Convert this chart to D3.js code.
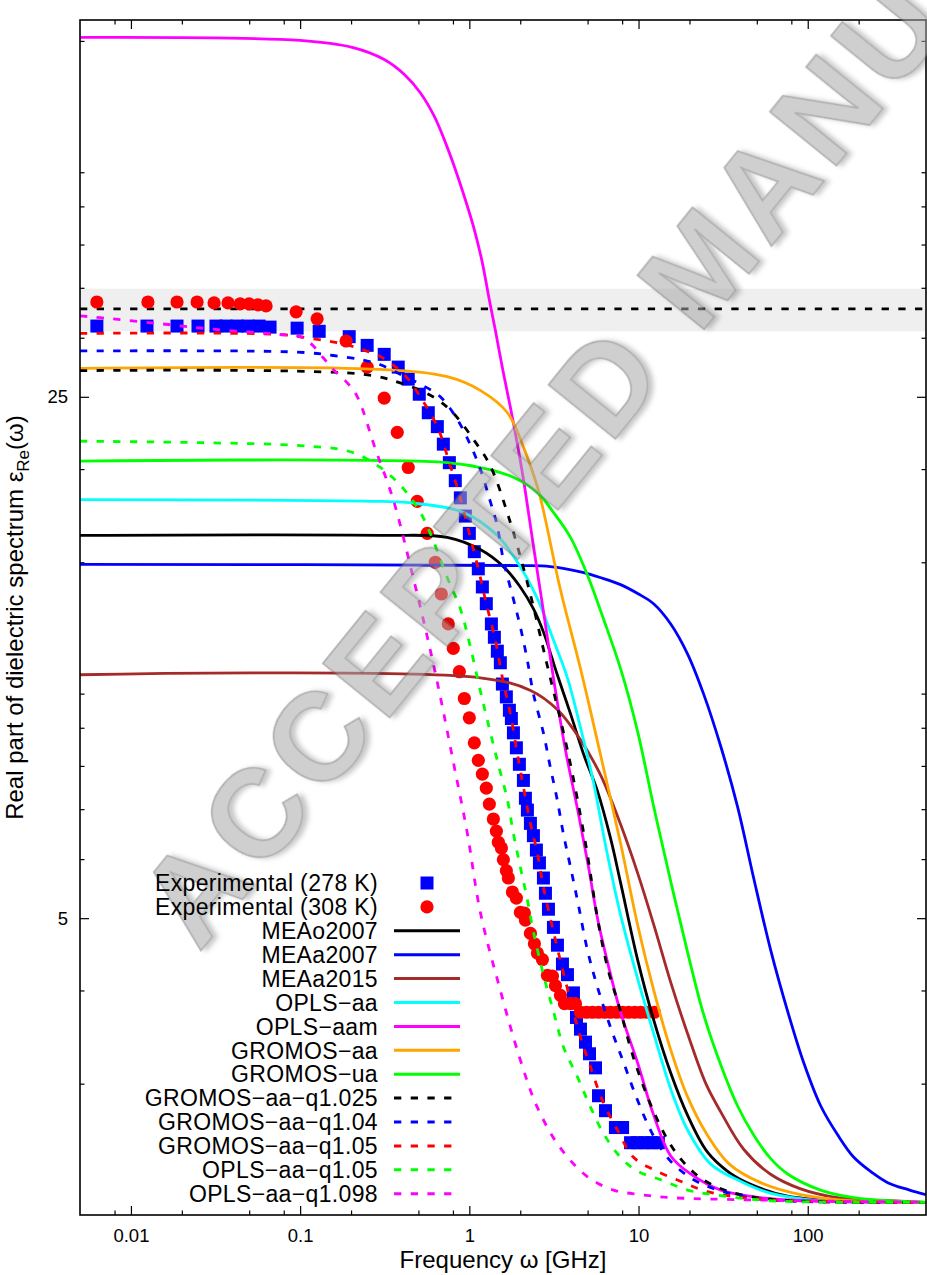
<!DOCTYPE html>
<html>
<head>
<meta charset="utf-8">
<title>Real part of dielectric spectrum</title>
<script src="https://cdn.jsdelivr.net/npm/d3@7/dist/d3.min.js"></script>
<style>
  html, body { margin: 0; padding: 0; background: #fff; }
  svg { display: block; }
  text { font-family: "Liberation Sans", Arial, Helvetica, sans-serif; }
</style>
</head>
<body>
<svg id="chart" width="927" height="1275" viewBox="0 0 927 1275"></svg>
<script>
// ---------------- data: [frequency in GHz, eps_Re] ----------------
const exp278 = [[0.00629,31.1],[0.01244,31.1],[0.01872,31.1],[0.02491,31.1],[0.0318,31.1],[0.0365,31.1],[0.0424,31.1],[0.0492,31.1],[0.0572,31.1],[0.0664,31.0],[0.096,30.9],[0.1296,30.6],[0.195,30.1],[0.249,29.3],[0.314,28.5],[0.380,27.4],[0.4355,26.4],[0.506,25.2],[0.572,23.8],[0.647,22.8],[0.702,21.6],[0.762,20.4],[0.826,19.3],[0.885,18.3],[0.947,17.3],[1.0,16.4],[1.07,15.5],[1.13,14.7],[1.194,13.9],[1.26,13.2],[1.35,12.4],[1.406,11.9],[1.464,11.4],[1.525,11.0],[1.568,10.3],[1.655,9.9],[1.725,9.5],[1.772,9.26],[1.822,8.86],[1.897,8.46],[1.976,8.04],[2.087,7.65],[2.145,7.24],[2.204,6.98],[2.296,6.70],[2.392,6.45],[2.491,6.17],[2.596,5.93],[2.741,5.66],[2.817,5.40],[2.935,5.14],[3.141,4.86],[3.317,4.60],[3.551,4.34],[3.801,4.20],[4.124,3.97],[4.297,3.68],[4.538,3.55],[4.858,3.41],[5.13,3.29],[5.568,3.15],[5.8,2.89],[6.38,2.76],[7.3,2.62],[8.05,2.62],[8.97,2.50],[9.87,2.50],[10.84,2.50],[11.94,2.50],[13.1,2.50]];

const exp308 = [[0.00629,33.5],[0.0126,33.5],[0.01872,33.5],[0.0246,33.5],[0.031,33.4],[0.0375,33.4],[0.0442,33.3],[0.0499,33.3],[0.0564,33.2],[0.0629,33.1],[0.0947,32.5],[0.126,31.8],[0.187,29.7],[0.249,27.4],[0.314,24.9],[0.375,22.4],[0.4355,20.1],[0.492,18.1],[0.564,16.4],[0.629,15.0],[0.683,13.6],[0.751,12.4],[0.804,11.5],[0.873,10.7],[0.934,9.85],[1.0,9.28],[1.07,8.59],[1.13,8.14],[1.194,7.80],[1.26,7.47],[1.313,7.11],[1.387,6.79],[1.445,6.54],[1.484,6.32],[1.547,6.21],[1.589,5.99],[1.655,5.79],[1.701,5.66],[1.797,5.42],[1.897,5.32],[2.003,5.09],[2.115,5.08],[2.145,4.97],[2.296,4.77],[2.424,4.62],[2.525,4.49],[2.704,4.40],[2.894,4.19],[3.098,4.18],[3.228,4.06],[3.455,3.94],[3.649,3.84],[3.959,3.84],[4.239,3.84],[4.54,3.74],[4.93,3.74],[5.34,3.74],[5.8,3.74],[6.3,3.74],[6.83,3.74],[7.42,3.74],[8.05,3.74],[8.74,3.74],[9.5,3.74],[10.3,3.74],[11.2,3.74],[12.4,3.74]];

const meao2007 = [[0.005,16.3],[0.3,16.3],[0.74,16.2],[1.16,15.6],[1.59,14.8],[2.0,13.9],[2.39,13.0],[2.74,12.1],[3.31,10.6],[3.96,9.4],[4.73,8.3],[5.72,7.4],[6.83,6.4],[7.83,5.58],[9.87,4.40],[12.3,3.65],[15.5,3.10],[19.5,2.72],[25.5,2.43],[34.4,2.28],[47.9,2.19],[76,2.12],[150,2.09],[500,2.08]];
const meaa2007 = [[0.005,14.9],[2.0,14.85],[3.01,14.8],[4.54,14.56],[6.0,14.3],[7.83,14.0],[10.0,13.6],[12.27,13.2],[15.5,12.4],[19.5,11.3],[24.2,10.0],[30.6,8.5],[38.5,7.05],[47.9,5.66],[60.4,4.53],[76.1,3.75],[94.7,3.20],[119.4,2.80],[150.5,2.56],[187.2,2.39],[240,2.28],[297,2.21],[400,2.16],[500,2.13]];
const meaa2015 = [[0.005,10.6],[1.16,10.5],[2.3,10.1],[3.31,9.52],[4.54,8.67],[5.96,7.78],[7.83,6.68],[9.87,5.75],[12.3,4.9],[15.5,4.1],[19.5,3.5],[25,3.0],[30.6,2.75],[41.8,2.45],[60,2.27],[90,2.17],[150,2.11],[300,2.09],[500,2.08]];
const oplsAa = [[0.005,18.2],[0.3,18.1],[0.47,18.0],[0.92,17.5],[1.46,16.3],[2.0,14.8],[2.53,13.4],[3.14,11.8],[3.80,10.5],[4.54,9.0],[5.42,7.6],[6.44,6.2],[7.83,5.05],[9.87,4.15],[12.3,3.50],[15.5,2.95],[19.5,2.60],[26.7,2.34],[40,2.22],[60,2.14],[120,2.09],[500,2.08]];
const oplsAam = [[0.005,75.8],[0.1,75.1],[0.203,73.5],[0.314,70.8],[0.413,67.6],[0.513,63.9],[0.621,59.4],[0.711,55.3],[0.815,50.9],[0.934,46.4],[1.07,41.9],[1.194,37.8],[1.313,33.7],[1.425,30.7],[1.59,26.9],[1.748,24.2],[1.923,21.6],[2.087,19.4],[2.235,17.5],[2.39,15.8],[2.74,12.9],[3.14,10.5],[3.70,8.4],[4.36,7.0],[5.06,5.86],[5.72,5.0],[6.55,4.37],[7.83,3.74],[9.87,3.2],[12.3,2.72],[15.5,2.40],[20.3,2.27],[30.6,2.16],[52.7,2.11],[100,2.09],[500,2.08]];
const gromosAa = [[0.005,27.3],[0.298,27.2],[0.74,26.6],[1.16,25.5],[1.68,23.8],[2.09,21.4],[2.53,18.9],[2.74,17.6],[3.45,13.8],[4.54,10.8],[5.96,8.28],[7.83,6.30],[9.87,4.9],[12.3,4.0],[15.5,3.33],[19.5,2.88],[25.5,2.56],[34.4,2.34],[52.7,2.21],[90.8,2.13],[178,2.09],[500,2.08]];
const gromosUa = [[0.005,20.5],[0.74,20.4],[1.28,20.0],[1.82,19.5],[2.53,18.6],[3.14,17.5],[3.96,16.2],[5.0,14.4],[6.2,12.6],[7.83,10.8],[9.87,8.9],[12.3,7.05],[15.5,5.6],[19.5,4.5],[24.2,3.72],[30.6,3.18],[38.5,2.80],[47.9,2.56],[60.4,2.38],[76.1,2.27],[119,2.16],[187,2.11],[297,2.09],[500,2.08]];
const gromosAaQ1025 = [[0.005,27.1],[0.236,26.8],[0.39,26.1],[0.61,25.0],[0.80,23.8],[1.06,21.9],[1.33,20.2],[1.70,17.3],[2.2,14.1],[2.89,10.9],[3.80,8.4],[4.86,6.3],[5.72,5.0],[6.55,4.3],[7.83,3.75],[9.34,3.25],[12.3,2.75],[16.1,2.45],[21.2,2.28],[27.8,2.19],[40,2.13],[80,2.09],[500,2.08]];
const gromosAaQ104 = [[0.005,28.8],[0.096,28.7],[0.157,28.4],[0.236,28.0],[0.298,27.6],[0.39,26.8],[0.513,26.0],[0.674,25.0],[0.85,23.3],[1.01,21.6],[1.16,20.0],[1.33,18.1],[1.46,16.8],[1.59,15.1],[1.82,13.4],[2.0,12.3],[2.2,11.1],[2.39,10.0],[2.74,8.86],[3.01,7.97],[3.31,7.20],[3.59,6.50],[3.96,5.86],[4.41,5.21],[4.99,4.53],[5.72,4.04],[6.83,3.57],[8.17,3.2],[9.87,2.85],[12.3,2.55],[15.5,2.36],[21.2,2.23],[27.8,2.17],[52.7,2.10],[500,2.08]];
const gromosAaQ105 = [[0.005,30.4],[0.076,30.3],[0.12,29.9],[0.172,29.5],[0.236,28.9],[0.298,28.3],[0.375,27.3],[0.4355,26.4],[0.513,25.0],[0.647,22.8],[0.762,20.4],[0.884,18.3],[1.0,16.4],[1.13,14.7],[1.26,13.2],[1.425,11.8],[1.568,10.5],[1.748,9.4],[1.923,8.3],[2.087,7.5],[2.296,6.7],[2.525,6.11],[2.741,5.5],[3.141,4.8],[3.6,4.22],[4.54,3.46],[5.2,3.16],[6.11,2.85],[7.5,2.60],[9.34,2.39],[12.3,2.30],[17.7,2.22],[25.5,2.15],[52,2.10],[500,2.08]];
const oplsAaQ105 = [[0.005,21.8],[0.0256,21.7],[0.1,21.5],[0.198,21.1],[0.298,20.1],[0.41,18.8],[0.513,17.5],[0.588,16.4],[0.741,14.3],[0.884,13.0],[1.01,11.6],[1.16,10.1],[1.28,9.2],[1.46,8.15],[1.68,7.2],[1.82,6.5],[2.0,5.86],[2.2,5.3],[2.39,4.8],[2.74,4.2],[3.14,3.75],[3.6,3.36],[4.36,3.06],[5.2,2.79],[6.22,2.57],[7.83,2.39],[9.87,2.29],[13.5,2.23],[19.5,2.16],[27.8,2.13],[60,2.09],[500,2.08]];
const oplsAaQ1098 = [[0.005,32.1],[0.0078,31.8],[0.0155,31.3],[0.0306,30.8],[0.076,30.3],[0.1,30.1],[0.115,29.5],[0.137,28.2],[0.157,27.2],[0.19,26.1],[0.218,25.0],[0.278,21.3],[0.355,18.2],[0.466,14.3],[0.565,11.9],[0.674,9.9],[0.804,8.1],[0.973,6.5],[1.16,5.1],[1.525,4.0],[2.0,3.23],[2.52,2.79],[3.45,2.46],[5.0,2.25],[7.12,2.16],[10.3,2.13],[15.5,2.11],[500,2.08]];

// reference value with its uncertainty band
const refValue = 32.8;
const refBand = [30.6, 34.9];

// legend labels in plotting order
const pointLabels = ["Experimental (278 K)", "Experimental (308 K)"];
const lineLabels = ["MEAo2007","MEAa2007","MEAa2015","OPLS\u2212aa","OPLS\u2212aam","GROMOS\u2212aa","GROMOS\u2212ua","GROMOS\u2212aa\u2212q1.025","GROMOS\u2212aa\u2212q1.04","GROMOS\u2212aa\u2212q1.05","OPLS\u2212aa\u2212q1.05","OPLS\u2212aa\u2212q1.098"];
const lineData = [meao2007, meaa2007, meaa2015, oplsAa, oplsAam, gromosAa, gromosUa, gromosAaQ1025, gromosAaQ104, gromosAaQ105, oplsAaQ105, oplsAaQ1098];

// axes
const xDomain = [0.005, 500];
const yDomain = [2, 80];
const xMajorTicks = [0.01, 0.1, 1, 10, 100];
const xMinorTicks = [0.008, 0.02, 0.05, 0.08, 0.2, 0.5, 0.8, 2, 5, 8, 20, 50, 80, 200];
const yMajorTicks = [5, 25];
const yMinorTicks = [3, 4, 6, 7, 8, 9, 10, 15, 20, 30, 35, 40, 45, 50, 75];

// stamp across the page (the part that lands on the page)
const stampText = "ACCEPTED MANU";

// ---------------- styles ----------------
const lineColors = ["#000000","#0000ff","#a52a2a","#00ffff","#ff00ff","#ffa500","#00ff00","#000000","#0000ff","#ff0000","#00ff00","#ff00ff"];
const lineDashed = [false,false,false,false,false,false,false,true,true,true,true,true];
const DASH = "7.3,9.4";

// ---------------- drawing ----------------
const svg = d3.select("#chart");
const plot = { left: 80, right: 926, top: 20, bottom: 1215 };
const x = d3.scaleLog().domain(xDomain).range([plot.left, plot.right]);
const y = d3.scaleLog().domain(yDomain).range([plot.bottom, plot.top]);

const defs = svg.append("defs");
defs.append("clipPath").attr("id", "plotClip")
  .append("rect")
  .attr("x", plot.left).attr("y", plot.top)
  .attr("width", plot.right - plot.left).attr("height", plot.bottom - plot.top);
const shade = defs.append("filter").attr("id", "wmShade")
  .attr("x", "-20%").attr("y", "-20%").attr("width", "140%").attr("height", "140%");
shade.append("feDropShadow").attr("dx", 3).attr("dy", 4).attr("stdDeviation", 2.5)
  .attr("flood-color", "#303030").attr("flood-opacity", 0.5);

// shaded band
svg.append("rect")
  .attr("x", plot.left).attr("width", plot.right - plot.left)
  .attr("y", y(refBand[1])).attr("height", y(refBand[0]) - y(refBand[1]))
  .attr("fill", "#efefef");

// axes with mirrored ticks
function styleAxis(g) {
  g.select(".domain").remove();
  g.selectAll(".tick line").attr("stroke", "#000").attr("stroke-width", 1.2);
  g.selectAll(".tick text").attr("fill", "#000").attr("font-size", 18.5)
    .attr("font-family", '"Liberation Sans", Arial, sans-serif');
}
const fmt = d3.format("~g");
function addAxis(axis, tx, ty, values, size, labels, pad) {
  svg.append("g").attr("transform", `translate(${tx},${ty})`)
    .call(axis.tickValues(values).tickSizeInner(size).tickSizeOuter(0)
      .tickPadding(pad || 3).tickFormat(labels ? fmt : ""))
    .call(styleAxis);
}
addAxis(d3.axisBottom(x), 0, plot.bottom, xMajorTicks, -9, true, 14);
addAxis(d3.axisBottom(x), 0, plot.bottom, xMinorTicks, -4.5, false);
addAxis(d3.axisTop(x), 0, plot.top, xMajorTicks, -9, false);
addAxis(d3.axisTop(x), 0, plot.top, xMinorTicks, -4.5, false);
addAxis(d3.axisLeft(y), plot.left, 0, yMajorTicks, -9, true, 12);
addAxis(d3.axisLeft(y), plot.left, 0, yMinorTicks, -4.5, false);
addAxis(d3.axisRight(y), plot.right, 0, yMajorTicks, -9, false);
addAxis(d3.axisRight(y), plot.right, 0, yMinorTicks, -4.5, false);

const body = svg.append("g").attr("clip-path", "url(#plotClip)");

// reference line
body.append("line")
  .attr("x1", x(xDomain[0])).attr("x2", x(xDomain[1]))
  .attr("y1", y(refValue)).attr("y2", y(refValue))
  .attr("stroke", "#000").attr("stroke-width", 2.8).attr("stroke-dasharray", DASH);

// experimental points
body.append("g").selectAll("rect").data(exp278).join("rect")
  .attr("x", d => x(d[0]) - 6.5).attr("y", d => y(d[1]) - 6.5)
  .attr("width", 13).attr("height", 13).attr("fill", "#0000ff");
body.append("g").selectAll("circle").data(exp308).join("circle")
  .attr("cx", d => x(d[0])).attr("cy", d => y(d[1])).attr("r", 6.6)
  .attr("fill", "#ff0000");

// model spectra
const line = d3.line().x(d => x(d[0])).y(d => y(d[1])).curve(d3.curveCatmullRom.alpha(0.5));
body.append("g").selectAll("path").data(lineData).join("path")
  .attr("d", line)
  .attr("fill", "none")
  .attr("stroke", (d, i) => lineColors[i])
  .attr("stroke-width", 2.8)
  .attr("stroke-dasharray", (d, i) => lineDashed[i] ? DASH : null);

// frame
svg.append("rect")
  .attr("x", plot.left).attr("y", plot.top)
  .attr("width", plot.right - plot.left).attr("height", plot.bottom - plot.top)
  .attr("fill", "none").attr("stroke", "#000").attr("stroke-width", 1.6);

// diagonal stamp, laid out glyph by glyph along a rotated baseline
const stamp = { size: 125, spacing: 8, angle: -51, x0: 199, y0: 953 };
const wm = svg.append("g")
  .attr("transform", `translate(${stamp.x0},${stamp.y0}) rotate(${stamp.angle})`)
  .attr("opacity", 0.55)
  .attr("pointer-events", "none");
let advance = 0;
for (const ch of stampText) {
  if (ch === " ") { advance += 0.278 * stamp.size + stamp.spacing; continue; }
  const t = wm.append("text")
    .attr("x", advance).attr("y", 0)
    .attr("font-size", stamp.size).attr("font-weight", "bold")
    .attr("fill", "#a8a8a8").attr("stroke", "#6e6e6e").attr("stroke-width", 1.6)
    .attr("filter", "url(#wmShade)")
    .text(ch);
  advance += t.node().getComputedTextLength() + stamp.spacing;
}

// legend
const leg = { textRight: 378, sampleStart: 394, sampleEnd: 460, marker: 427, top: 883, step: 23.9 };
const legend = svg.append("g").attr("font-size", 23).attr("letter-spacing", 0.35);
pointLabels.forEach((label, i) => {
  const yy = leg.top + i * leg.step;
  legend.append("text").attr("x", leg.textRight).attr("y", yy + 8.2)
    .attr("text-anchor", "end").attr("fill", "#000").text(label);
});
legend.append("rect").attr("x", leg.marker - 6.5).attr("y", leg.top - 6.5)
  .attr("width", 13).attr("height", 13).attr("fill", "#0000ff");
legend.append("circle").attr("cx", leg.marker).attr("cy", leg.top + leg.step)
  .attr("r", 6.6).attr("fill", "#ff0000");
lineLabels.forEach((label, i) => {
  const yy = leg.top + (i + 2) * leg.step;
  legend.append("text").attr("x", leg.textRight).attr("y", yy + 8.2)
    .attr("text-anchor", "end").attr("fill", "#000").text(label);
  legend.append("line")
    .attr("x1", leg.sampleStart).attr("x2", leg.sampleEnd)
    .attr("y1", yy).attr("y2", yy)
    .attr("stroke", lineColors[i]).attr("stroke-width", 3)
    .attr("stroke-dasharray", lineDashed[i] ? DASH : null);
});

// axis titles
svg.append("text")
  .attr("x", (plot.left + plot.right) / 2).attr("y", 1268)
  .attr("text-anchor", "middle").attr("font-size", 24).attr("fill", "#000")
  .text("Frequency \u03c9 [GHz]");
const yTitle = svg.append("text")
  .attr("transform", `translate(23,${(plot.top + plot.bottom) / 2}) rotate(-90)`)
  .attr("text-anchor", "middle").attr("font-size", 24).attr("fill", "#000");
yTitle.append("tspan").text("Real part of dielectric spectrum \u03b5");
yTitle.append("tspan").attr("font-size", 17).attr("dy", 6).text("Re");
yTitle.append("tspan").attr("dy", -6).text("(\u03c9)");
</script>
</body>
</html>
